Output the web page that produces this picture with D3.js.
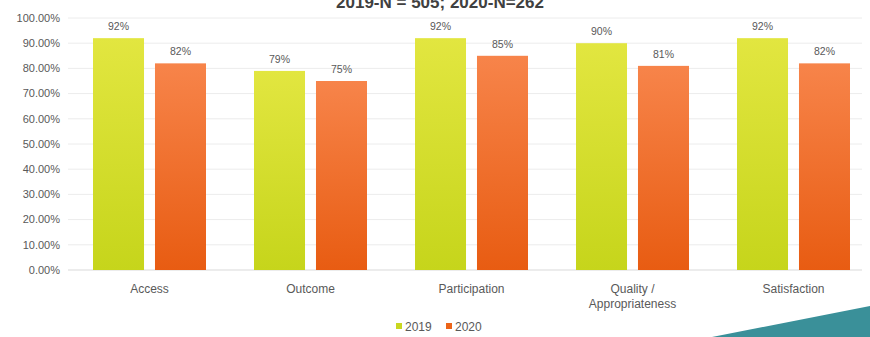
<!DOCTYPE html>
<html>
<head>
<meta charset="utf-8">
<script src="https://cdn.jsdelivr.net/npm/d3@7"></script>
<style>
  html, body { margin: 0; padding: 0; background: #fff; }
  svg { display: block; font-family: Arial, "Liberation Sans", sans-serif; }
</style>
</head>
<body>
<div id="chart"></div>
<script>
// data
const categories = ["Access", "Outcome", "Participation", "Quality / Appropriateness", "Satisfaction"];
const seriesNames = ["2019", "2020"];
const values2019 = [92, 79, 92, 90, 92];
const values2020 = [82, 75, 85, 81, 82];
const yTicks = [0, 10, 20, 30, 40, 50, 60, 70, 80, 90, 100];
const title = "2019-N = 505; 2020-N=262";

const width = 870, height = 337;
const svg = d3.select("#chart").append("svg")
  .attr("width", width)
  .attr("height", height);

// gradients for the bars
const defs = svg.append("defs");
const grads = [
  { id: "g2019", top: "#e2e640", bottom: "#c6d51b" },
  { id: "g2020", top: "#f7844a", bottom: "#e85c12" }
];
grads.forEach(g => {
  const lg = defs.append("linearGradient")
    .attr("id", g.id).attr("x1", 0).attr("y1", 0).attr("x2", 0).attr("y2", 1);
  lg.append("stop").attr("offset", "0%").attr("stop-color", g.top);
  lg.append("stop").attr("offset", "100%").attr("stop-color", g.bottom);
});

// scales
const x = d3.scaleBand()
  .domain(categories)
  .range([69, 874])
  .paddingInner(0)
  .paddingOuter(0);
const x1 = d3.scaleBand()
  .domain(seriesNames)
  .range([24, x.bandwidth() - 24])
  .paddingInner(0.177);
const y = d3.scaleLinear()
  .domain([0, 100])
  .range([270, 18]);

// gridlines
svg.append("g")
  .selectAll("line")
  .data(yTicks)
  .join("line")
    .attr("x1", 68)
    .attr("x2", 862)
    .attr("y1", d => y(d))
    .attr("y2", d => y(d))
    .attr("stroke", d => d === 0 ? "#d9d9d9" : "#ececec")
    .attr("stroke-width", 1);

// y axis labels
svg.append("g")
  .selectAll("text")
  .data(yTicks)
  .join("text")
    .attr("x", 60)
    .attr("y", d => y(d))
    .attr("dy", "0.35em")
    .attr("text-anchor", "end")
    .style("font-size", "11px")
    .style("fill", "#595959")
    .text(d => d.toFixed(2) + "%");

// bars
const rows = categories.map((c, i) => ({
  cat: c,
  vals: [
    { key: "2019", v: values2019[i] },
    { key: "2020", v: values2020[i] }
  ]
}));

const groups = svg.append("g")
  .selectAll("g")
  .data(rows)
  .join("g")
    .attr("transform", d => `translate(${x(d.cat)},0)`);

groups.selectAll("rect")
  .data(d => d.vals)
  .join("rect")
    .attr("x", d => x1(d.key))
    .attr("y", d => y(d.v))
    .attr("width", x1.bandwidth())
    .attr("height", d => y(0) - y(d.v))
    .attr("fill", d => d.key === "2019" ? "url(#g2019)" : "url(#g2020)");

groups.selectAll("text.val")
  .data(d => d.vals)
  .join("text")
    .attr("class", "val")
    .attr("x", d => x1(d.key) + x1.bandwidth() / 2)
    .attr("y", d => y(d.v) - 8)
    .attr("text-anchor", "middle")
    .style("font-size", "10.5px")
    .style("fill", "#595959")
    .text(d => d.v + "%");

// category labels
svg.append("g")
  .selectAll("text")
  .data(categories)
  .join("text")
    .attr("x", d => x(d) + x.bandwidth() / 2)
    .attr("y", 293)
    .attr("text-anchor", "middle")
    .style("font-size", "12px")
    .style("fill", "#595959")
    .each(function(d) {
      const parts = d === "Quality / Appropriateness" ? ["Quality /", "Appropriateness"] : [d];
      d3.select(this).selectAll("tspan")
        .data(parts)
        .join("tspan")
          .attr("x", x(d) + x.bandwidth() / 2)
          .attr("dy", (p, i) => i === 0 ? 0 : 15)
          .text(p => p);
    });

// legend
const legend = svg.append("g").attr("transform", "translate(396,327)");
seriesNames.forEach((s, i) => {
  const g = legend.append("g").attr("transform", `translate(${i * 50},0)`);
  g.append("rect")
    .attr("x", 0).attr("y", -4)
    .attr("width", 6).attr("height", 6)
    .attr("fill", i === 0 ? "#c9d720" : "#ec6418");
  g.append("text")
    .attr("x", 9).attr("y", 0)
    .attr("dy", "0.35em")
    .style("font-size", "12px")
    .style("fill", "#595959")
    .text(s);
});

// title (cut at the top edge, as in the source)
svg.append("text")
  .attr("x", 440)
  .attr("y", 8)
  .attr("text-anchor", "middle")
  .style("font-size", "17px")
  .style("font-weight", "bold")
  .style("fill", "#404040")
  .text(title);

// teal corner decoration
svg.append("path")
  .attr("d", "M712,337 L870,306 L870,337 Z")
  .attr("fill", "#3a9099");
</script>
</body>
</html>
